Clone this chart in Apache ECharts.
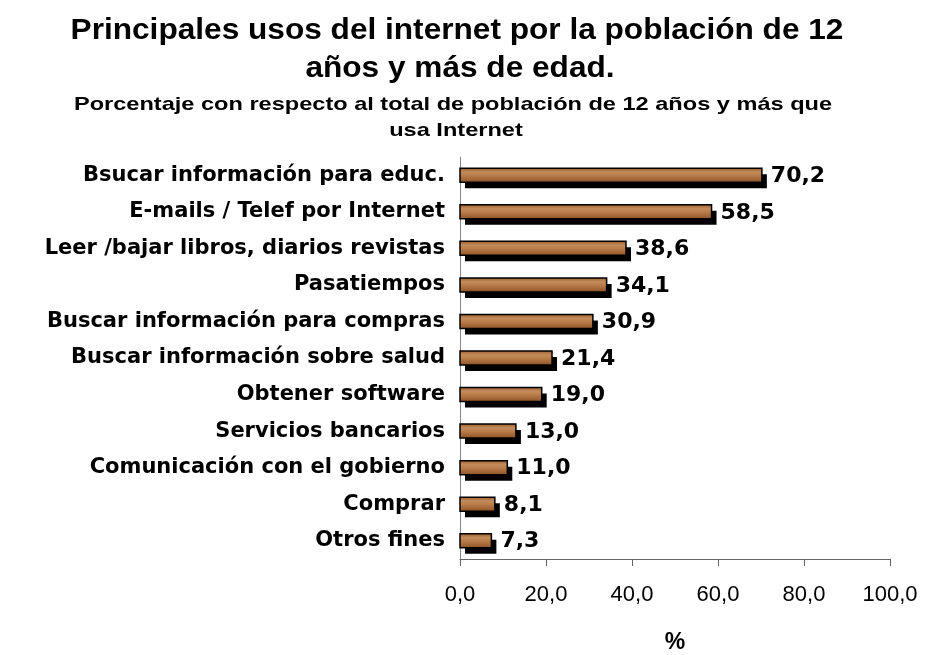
<!DOCTYPE html>
<html>
<head>
<meta charset="utf-8">
<script src="https://cdn.jsdelivr.net/npm/echarts@6/dist/echarts.min.js"></script>
<style>
  html, body { margin: 0; padding: 0; background: #fff; }
  #chart { width: 926px; height: 655px; }
</style>
</head>
<body>
<div id="chart"></div>
<script>
// datos (de abajo hacia arriba, como los dibuja echarts)
var categorias = [
    'Otros fines',
    'Comprar',
    'Comunicación con el gobierno',
    'Servicios bancarios',
    'Obtener software',
    'Buscar información sobre salud',
    'Buscar información para compras',
    'Pasatiempos',
    'Leer /bajar libros, diarios revistas',
    'E-mails / Telef por Internet',
    'Bsucar información para educ.'
];
var valores = [7.3, 8.1, 11.0, 13.0, 19.0, 21.4, 30.9, 34.1, 38.6, 58.5, 70.2];
var ticksX = [0, 20, 40, 60, 80, 100];

var fuente = '"Liberation Sans", Arial, sans-serif';
var fuenteAncha = '"DejaVu Sans", "Liberation Sans", sans-serif';
var myChart = echarts.init(document.getElementById('chart'));

function fmt(v) { return v.toFixed(1).replace('.', ','); }

var relleno = new echarts.graphic.LinearGradient(0, 0, 0, 1, [
    { offset: 0, color: '#98582b' },
    { offset: 0.3, color: '#c48c5b' },
    { offset: 0.55, color: '#b67a48' },
    { offset: 1, color: '#8c4f25' }
]);

function titulo(texto, x, y, size, sx) {
    return {
        type: 'text',
        x: x, y: y,
        scaleX: sx,
        style: {
            text: texto,
            fill: '#000',
            font: 'bold ' + size + 'px ' + fuente,
            textAlign: 'center',
            textVerticalAlign: 'middle'
        }
    };
}

var option = {
    backgroundColor: '#ffffff',
    animation: false,
    graphic: [
        titulo('Principales usos del internet por la población de 12', 457, 31, 29, 1.09),
        titulo('años y más de edad.', 460, 69, 29, 1.09),
        titulo('Porcentaje con respecto al total de población de 12 años y más que', 453, 105, 19, 1.24),
        titulo('usa Internet', 456, 131, 19, 1.24)
    ],
    grid: {
        left: 460,
        right: 36,
        top: 157,
        bottom: 96,
        outerBoundsMode: 'none'
    },
    xAxis: {
        type: 'value',
        min: ticksX[0],
        max: ticksX[ticksX.length - 1],
        interval: 20,
        name: '%',
        nameLocation: 'middle',
        nameGap: 72,
        nameTextStyle: { fontFamily: fuente, fontSize: 23, fontWeight: 'bold', color: '#000' },
        axisLine: { show: true, lineStyle: { color: '#666', width: 1 } },
        axisTick: { show: true, length: 7, lineStyle: { color: '#666' } },
        splitLine: { show: false },
        axisLabel: {
            margin: 25,
            fontFamily: fuente, fontSize: 22, color: '#000',
            formatter: fmt
        }
    },
    yAxis: {
        type: 'category',
        data: categorias,
        axisLine: { show: true, lineStyle: { color: '#888', width: 1 } },
        axisTick: { show: false },
        axisLabel: {
            margin: 15,
            fontFamily: fuenteAncha, fontSize: 21, fontWeight: 'bold', color: '#000'
        }
    },
    series: [{
        type: 'custom',
        data: valores.map(function (v, i) { return [v, i]; }),
        encode: { x: 0, y: 1 },
        renderItem: function (params, api) {
            var v = api.value(0);
            var ini = api.coord([0, api.value(1)]);
            var fin = api.coord([v, api.value(1)]);
            var h = 14;
            var w = fin[0] - ini[0];
            return {
                type: 'group',
                children: [
                    {
                        type: 'rect',
                        shape: { x: ini[0] + 5, y: ini[1] - h / 2 + 6, width: w, height: h },
                        style: { fill: '#000' }
                    },
                    {
                        type: 'rect',
                        shape: { x: ini[0], y: ini[1] - h / 2, width: w, height: h },
                        style: { fill: relleno, stroke: '#000', lineWidth: 1.5 }
                    },
                    {
                        type: 'text',
                        x: fin[0] + 9, y: ini[1] + 1,
                        style: {
                            text: fmt(v),
                            fill: '#000',
                            font: 'bold 22px ' + fuenteAncha,
                            textAlign: 'left',
                            textVerticalAlign: 'middle'
                        }
                    }
                ]
            };
        }
    }]
};

myChart.setOption(option);
</script>
</body>
</html>
